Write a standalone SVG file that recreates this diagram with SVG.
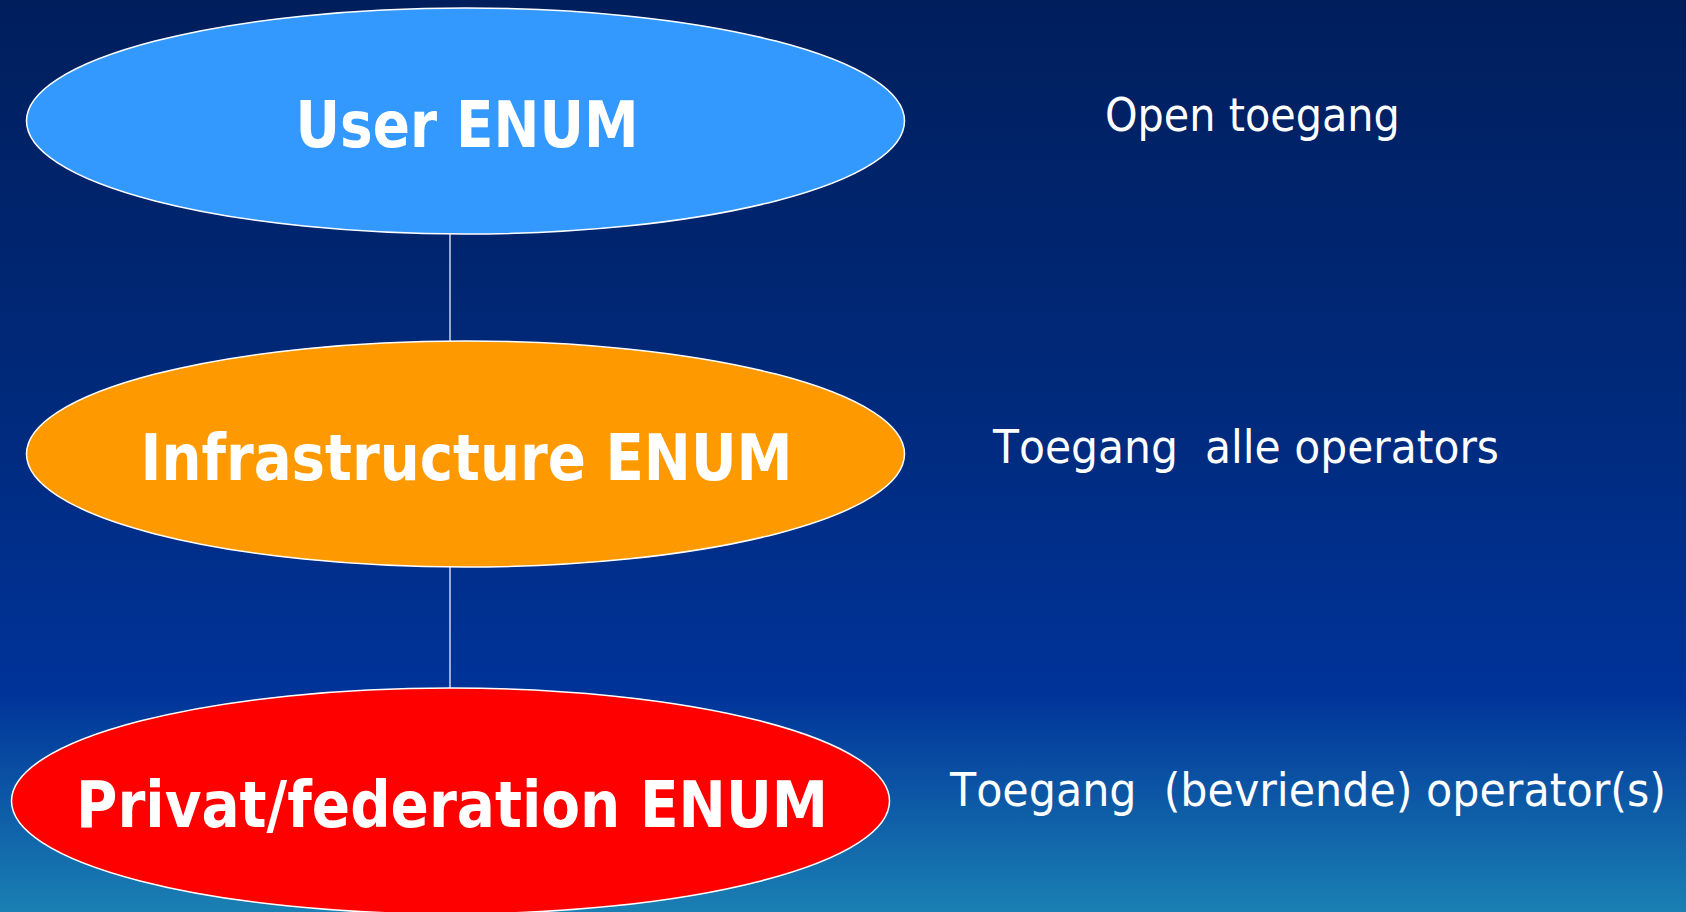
<svg xmlns="http://www.w3.org/2000/svg" width="1686" height="912" viewBox="0 0 1686 912">
<defs>
<linearGradient id="bg" x1="0" y1="0" x2="0" y2="1">
<stop offset="0" stop-color="#001e5c"/>
<stop offset="0.45" stop-color="#002a7c"/>
<stop offset="0.76" stop-color="#003399"/>
<stop offset="1" stop-color="#1a80b3"/>
</linearGradient>
<style>
.node{stroke:#ffffff;stroke-width:1.5}
.lbl{font-family:"DejaVu Sans Condensed","DejaVu Sans",sans-serif;font-stretch:condensed;font-weight:bold;font-size:64px;fill:#ffffff;text-anchor:middle}
.side{font-family:"DejaVu Sans Condensed","DejaVu Sans",sans-serif;font-stretch:condensed;font-size:46px;fill:#ffffff;font-kerning:none}
.conn{stroke:#ffffff;stroke-width:1.2;fill:none}
</style>
</defs>
<rect x="0" y="0" width="1686" height="912" fill="url(#bg)"/>
<g id="connectors">
<line class="conn" x1="450" y1="234" x2="450" y2="341"/>
<line class="conn" x1="450" y1="567" x2="450" y2="688"/>
</g>
<g id="user-enum">
<ellipse class="node" cx="465.5" cy="121" rx="439" ry="113" fill="#3399ff"/>
<text class="lbl" x="467" y="147" textLength="343" lengthAdjust="spacingAndGlyphs">User ENUM</text>
</g>
<g id="infrastructure-enum">
<ellipse class="node" cx="465.5" cy="454" rx="439" ry="113" fill="#ff9900"/>
<text class="lbl" x="466.5" y="480" textLength="652" lengthAdjust="spacingAndGlyphs">Infrastructure ENUM</text>
</g>
<g id="privat-enum">
<ellipse class="node" cx="450.5" cy="801" rx="439" ry="113" fill="#ff0000"/>
<text class="lbl" x="452" y="827" textLength="752" lengthAdjust="spacingAndGlyphs">Privat/federation ENUM</text>
</g>
<g id="side-labels">
<text class="side" x="1105" y="131">Open toegang</text>
<text class="side" x="993" y="463" xml:space="preserve" textLength="506" lengthAdjust="spacingAndGlyphs">Toegang  alle operators</text>
<text class="side" x="950" y="806" xml:space="preserve" textLength="716" lengthAdjust="spacingAndGlyphs">Toegang  (bevriende) operator(s)</text>
</g>
</svg>
